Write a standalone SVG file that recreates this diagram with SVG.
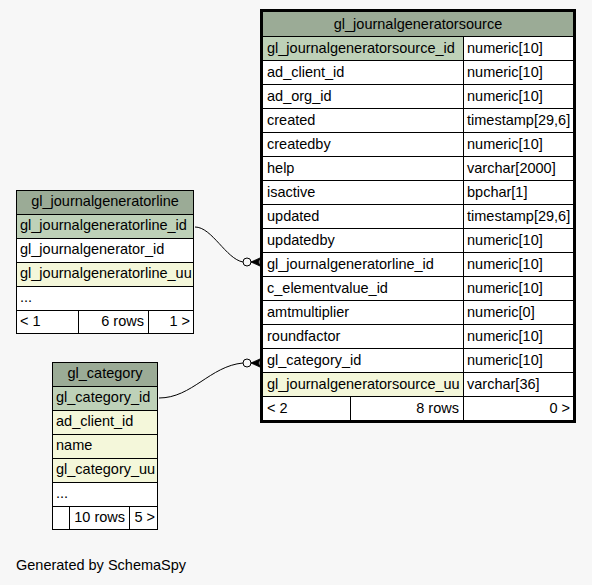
<svg xmlns="http://www.w3.org/2000/svg" width="592" height="585" viewBox="0 0 592 585">
<style>
text{font-family:"Liberation Sans",Arial,sans-serif;font-size:14.5px;fill:#000}
.c{text-anchor:middle}
.r{text-anchor:end}
.hd{fill:#9bab96}
.pk{fill:#bed1b8}
.ix{fill:#f4f7da}
.wh{fill:#ffffff}
.ln{stroke:#000;stroke-width:1;fill:none}
.ob{stroke:#000;stroke-width:3;fill:none}
.conn{stroke:#000;stroke-width:1;fill:none}
</style>
<rect x="0" y="0" width="592" height="585" fill="#f7f7f7"/>

<g id="connectors">
  <path class="conn" d="M195,227 C212,227 226,259 243,262"/>
  <circle class="conn" cx="247" cy="262" r="4"/>
  <polygon points="251,262 262,257 258,262 262,267" fill="#000" stroke="#000" stroke-width="0.8"/>
  <line class="conn" x1="251" y1="262" x2="262" y2="262"/>
  <path class="conn" d="M159,398 C192,398 210,366 243,363"/>
  <circle class="conn" cx="247" cy="363" r="4"/>
  <polygon points="251,363 262,358 258,363 262,368" fill="#000" stroke="#000" stroke-width="0.8"/>
  <line class="conn" x1="251" y1="363" x2="262" y2="363"/>
</g>

<g id="gl_journalgeneratorsource">
  <rect class="wh" x="263" y="12" width="310" height="408"/>
  <rect class="hd" x="263" y="12" width="310" height="24"/>
  <rect class="pk" x="263" y="36" width="200" height="24"/>
  <rect class="ix" x="263" y="372" width="200" height="24"/>
  <g class="ln">
    <line x1="263" y1="36.5" x2="573" y2="36.5"/>
    <line x1="263" y1="60.5" x2="573" y2="60.5"/>
    <line x1="263" y1="84.5" x2="573" y2="84.5"/>
    <line x1="263" y1="108.5" x2="573" y2="108.5"/>
    <line x1="263" y1="132.5" x2="573" y2="132.5"/>
    <line x1="263" y1="156.5" x2="573" y2="156.5"/>
    <line x1="263" y1="180.5" x2="573" y2="180.5"/>
    <line x1="263" y1="204.5" x2="573" y2="204.5"/>
    <line x1="263" y1="228.5" x2="573" y2="228.5"/>
    <line x1="263" y1="252.5" x2="573" y2="252.5"/>
    <line x1="263" y1="276.5" x2="573" y2="276.5"/>
    <line x1="263" y1="300.5" x2="573" y2="300.5"/>
    <line x1="263" y1="324.5" x2="573" y2="324.5"/>
    <line x1="263" y1="348.5" x2="573" y2="348.5"/>
    <line x1="263" y1="372.5" x2="573" y2="372.5"/>
    <line x1="263" y1="396.5" x2="573" y2="396.5"/>
    <line x1="463.5" y1="36" x2="463.5" y2="420"/>
    <line x1="350.5" y1="396" x2="350.5" y2="420"/>
  </g>
  <rect class="ob" x="261.5" y="10.5" width="313" height="411"/>
  <text class="c" x="418" y="29">gl_journalgeneratorsource</text>
  <text x="267" y="53">gl_journalgeneratorsource_id</text><text x="467" y="53">numeric[10]</text>
  <text x="267" y="77">ad_client_id</text><text x="467" y="77">numeric[10]</text>
  <text x="267" y="101">ad_org_id</text><text x="467" y="101">numeric[10]</text>
  <text x="267" y="125">created</text><text x="467" y="125">timestamp[29,6]</text>
  <text x="267" y="149">createdby</text><text x="467" y="149">numeric[10]</text>
  <text x="267" y="173">help</text><text x="467" y="173">varchar[2000]</text>
  <text x="267" y="197">isactive</text><text x="467" y="197">bpchar[1]</text>
  <text x="267" y="221">updated</text><text x="467" y="221">timestamp[29,6]</text>
  <text x="267" y="245">updatedby</text><text x="467" y="245">numeric[10]</text>
  <text x="267" y="269">gl_journalgeneratorline_id</text><text x="467" y="269">numeric[10]</text>
  <text x="267" y="293">c_elementvalue_id</text><text x="467" y="293">numeric[10]</text>
  <text x="267" y="317">amtmultiplier</text><text x="467" y="317">numeric[0]</text>
  <text x="267" y="341">roundfactor</text><text x="467" y="341">numeric[10]</text>
  <text x="267" y="365">gl_category_id</text><text x="467" y="365">numeric[10]</text>
  <text x="267" y="389">gl_journalgeneratorsource_uu</text><text x="467" y="389">varchar[36]</text>
  <text x="267" y="413">&lt; 2</text><text class="r" x="459" y="413">8 rows</text><text class="r" x="570" y="413">0 &gt;</text>
</g>

<g id="gl_journalgeneratorline">
  <rect class="wh" x="16" y="190" width="178" height="144"/>
  <rect class="hd" x="16" y="190" width="178" height="24"/>
  <rect class="pk" x="16" y="214" width="178" height="24"/>
  <rect class="ix" x="16" y="262" width="178" height="24"/>
  <g class="ln">
    <line x1="16" y1="214.5" x2="194" y2="214.5"/>
    <line x1="16" y1="238.5" x2="194" y2="238.5"/>
    <line x1="16" y1="262.5" x2="194" y2="262.5"/>
    <line x1="16" y1="286.5" x2="194" y2="286.5"/>
    <line x1="16" y1="310.5" x2="194" y2="310.5"/>
    <line x1="78.5" y1="310" x2="78.5" y2="334"/>
    <line x1="148.5" y1="310" x2="148.5" y2="334"/>
    <rect x="16.5" y="190.5" width="177" height="143"/>
  </g>
  <text class="c" x="105" y="206">gl_journalgeneratorline</text>
  <text x="20" y="230">gl_journalgeneratorline_id</text>
  <text x="20" y="254">gl_journalgenerator_id</text>
  <text x="20" y="278">gl_journalgeneratorline_uu</text>
  <text x="20" y="302">...</text>
  <text x="20" y="326">&lt; 1</text><text class="r" x="144" y="326">6 rows</text><text class="r" x="190" y="326">1 &gt;</text>
</g>

<g id="gl_category">
  <rect class="wh" x="52" y="362" width="106" height="168"/>
  <rect class="hd" x="52" y="362" width="106" height="24"/>
  <rect class="pk" x="52" y="386" width="106" height="24"/>
  <rect class="ix" x="52" y="410" width="106" height="72"/>
  <g class="ln">
    <line x1="52" y1="386.5" x2="158" y2="386.5"/>
    <line x1="52" y1="410.5" x2="158" y2="410.5"/>
    <line x1="52" y1="434.5" x2="158" y2="434.5"/>
    <line x1="52" y1="458.5" x2="158" y2="458.5"/>
    <line x1="52" y1="482.5" x2="158" y2="482.5"/>
    <line x1="52" y1="506.5" x2="158" y2="506.5"/>
    <line x1="69.5" y1="506" x2="69.5" y2="530"/>
    <line x1="129.5" y1="506" x2="129.5" y2="530"/>
    <rect x="52.5" y="362.5" width="105" height="167"/>
  </g>
  <text class="c" x="105" y="378">gl_category</text>
  <text x="56" y="402">gl_category_id</text>
  <text x="56" y="426">ad_client_id</text>
  <text x="56" y="450">name</text>
  <text x="56" y="474">gl_category_uu</text>
  <text x="56" y="498">...</text>
  <text class="r" x="125" y="522">10 rows</text><text class="r" x="155" y="522">5 &gt;</text>
</g>

<text x="16" y="570">Generated by SchemaSpy</text>
</svg>
